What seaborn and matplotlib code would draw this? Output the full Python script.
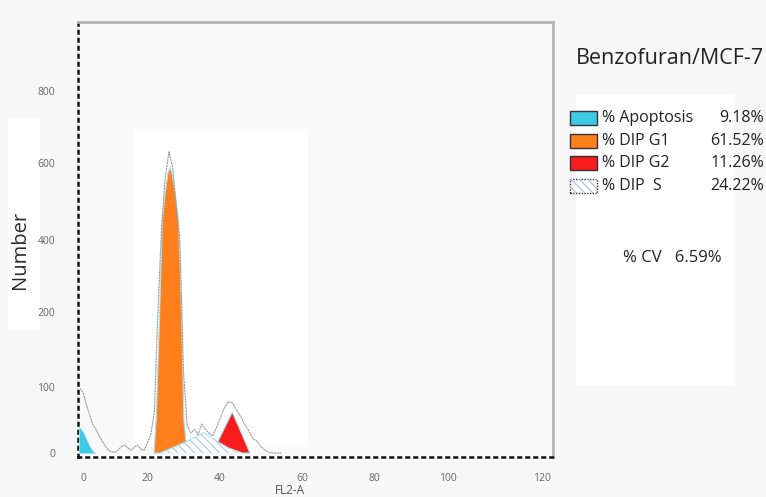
import numpy as np
import matplotlib
matplotlib.use("Agg")
import matplotlib.pyplot as plt
from matplotlib.patches import Rectangle
import seaborn as sns

# ---- DNA content histogram (FL2-A channel vs. event count) ----
CHANNEL = [-1, 0, 1, 2, 3, 4, 5, 6, 7, 8, 9, 10, 11, 12, 13, 14, 15, 16, 17, 18,
           19, 20, 21, 22, 23, 24, 25, 26, 27, 28, 29, 30, 31, 32, 33, 34, 35, 36,
           37, 38, 39, 40, 41, 42, 43, 44, 45, 46, 47, 48, 49, 50, 51, 52, 53, 54, 55]
RAW_COUNTS = [98, 92, 74, 58, 44, 36, 26, 18, 10, 4, 2, 1, 5, 10, 12, 8, 4, 9, 12, 6,
              4, 14, 28, 62, 210, 440, 565, 632, 590, 490, 400, 120, 42, 30, 36, 28, 44, 36,
              30, 26, 38, 52, 68, 78, 76, 66, 56, 44, 34, 22, 18, 10, 4, 1, 0, 0, 0]

# ---- model components fitted to the histogram ----
APO_X = [-1.3, 0, 1, 2, 3, 3.8]
APO_Y = [40, 32, 21, 11, 3, 0]

S_X = [23.5, 30.7, 33.0, 35.5, 37.0, 39.4, 42.0, 45.5]
S_Y = [0, 17, 24, 31, 26, 17, 8, 0]

G1_X = [21.9, 22.5, 23.4, 23.8, 24.2, 25.0, 25.75, 26.3, 26.8, 27.7, 28.6, 29.1, 29.5, 30.1, 30.7]
G1_Y = [0, 50, 189, 322, 452, 525, 575, 590, 575, 525, 452, 322, 189, 50, 17]

G2_X = [39.4, 43.0, 44.9, 47.3]
G2_Y = [17, 62, 35, 0]

LEGEND_LABELS = ["% Apoptosis", "% DIP G1", "% DIP G2", "% DIP  S"]
LEGEND_VALUES = ["9.18%", "61.52%", "11.26%", "24.22%"]
CV_TEXT = "% CV   6.59%"
TITLE = "Benzofuran/MCF-7"

Y_TICKS = [0, 100, 200, 400, 600, 800]
X_TICKS = [0, 20, 40, 60, 80, 100, 120]

C_APO = "#3ec9e4"
C_G1 = "#ff7f1c"
C_G2 = "#f81c1c"
C_EDGE = "#a6e4f0"

sns.set_theme(style="white")
plt.rcParams["font.family"] = ["Open Sans", "DejaVu Sans"]
plt.rcParams["hatch.linewidth"] = 0.7

W, H = 766, 497
fig = plt.figure(figsize=(W / 100, H / 100), dpi=100)
fig.patch.set_facecolor("#f7f7f7")


def fx(px):
    return px / W


def fy(py):
    return 1 - py / H


# light panels behind the axis title and the statistics block
fig.add_artist(Rectangle((fx(8), fy(330)), fx(32), 212 / H, transform=fig.transFigure,
                         facecolor="white", edgecolor="none", zorder=0))
fig.add_artist(Rectangle((fx(576), fy(385)), fx(158), 290 / H, transform=fig.transFigure,
                         facecolor="white", edgecolor="none", zorder=0))

ax = fig.add_axes([fx(78), fy(457), fx(553 - 78), (457 - 22) / H])
ax.set_facecolor("#f9f9f9")

# instrument display scales: piecewise-linear between the labelled ticks
_XK = np.array([-20.0, 0, 20, 40, 60, 80, 100, 120, 140])
_XU = np.array([-64.0, 0, 64, 137, 219, 292, 365, 459, 553])
_YK = np.array([-100.0, 0, 100, 200, 400, 600, 800, 1200])
_YU = np.array([-66.0, 0, 66, 141, 213, 290, 363, 509])


def _piecewise(k, u):
    def fwd(v):
        return np.interp(np.asarray(v, dtype=float), k, u)

    def inv(w):
        return np.interp(np.asarray(w, dtype=float), u, k)

    return fwd, inv


ax.set_xscale("function", functions=_piecewise(_XK, _XU))
ax.set_yscale("function", functions=_piecewise(_YK, _YU))
ax.set_xlim(-1.6, 122.4)
ax.set_ylim(-6, 988)

# white plotting panel behind the peaks
ax.add_patch(Rectangle((0.116, 0.023), 0.368, 0.73, transform=ax.transAxes,
                       facecolor="white", edgecolor="none", zorder=0))

# S phase (hatched)
ax.fill_between(S_X, 0, S_Y, facecolor="white", edgecolor="#a9bfdc",
                hatch="\\\\\\\\", linewidth=0.0, zorder=2)
ax.plot(S_X, S_Y, color=C_EDGE, lw=0.8, zorder=2.5)

S_X_arr = np.array(S_X)
S_Y_arr = np.array(S_Y)

# G1 peak stacked on the S phase
m1 = (S_X_arr >= G1_X[0]) & (S_X_arr <= G1_X[-1])
g1_poly_x = list(G1_X) + list(S_X_arr[m1][::-1])
g1_poly_y = list(G1_Y) + list(S_Y_arr[m1][::-1])
ax.fill(g1_poly_x, g1_poly_y, facecolor=C_G1, edgecolor=C_EDGE, lw=0.8, zorder=3)

# G2 peak stacked on the S phase
m2 = (S_X_arr >= G2_X[0]) & (S_X_arr <= G2_X[-1])
g2_poly_x = list(G2_X) + list(S_X_arr[m2][::-1])
g2_poly_y = list(G2_Y) + list(S_Y_arr[m2][::-1])
ax.fill(g2_poly_x, g2_poly_y, facecolor=C_G2, edgecolor=C_EDGE, lw=0.8, zorder=3)

# apoptotic (sub-G1) fraction
ax.fill_between(APO_X, 0, APO_Y, facecolor=C_APO, edgecolor=C_EDGE, lw=0.6, zorder=3)

# measured histogram outline
sns.lineplot(x=CHANNEL, y=RAW_COUNTS, ax=ax, color="#9a9a9a", lw=0.8,
             linestyle=(0, (2, 0.6)), zorder=4)

ax.set_xticks(X_TICKS)
ax.set_yticks(Y_TICKS)
ax.set_xticklabels([str(t) for t in X_TICKS])
ax.set_yticklabels([str(t) for t in Y_TICKS])
ax.tick_params(axis="both", which="major", labelsize=7.5, labelcolor="#666666",
               colors="black", length=2.5, width=2.4, direction="out")
ax.tick_params(axis="y", pad=14)
ax.tick_params(axis="x", pad=9)
ax.minorticks_off()
ax.set_xlabel("")
ax.set_ylabel("")

for side in ("left", "bottom"):
    ax.spines[side].set_linestyle((0, (1, 2.2)))
    ax.spines[side].set_linewidth(1.8)
    ax.spines[side].set_color("#111111")
for side in ("top", "right"):
    ax.spines[side].set_linewidth(2.0)
    ax.spines[side].set_color("#b4b4b4")

fig.text(fx(20), fy(250), "Number", rotation=90, ha="center", va="center",
         fontsize=14.5, color="#2a2a2a")
fig.text(fx(290), 0.0, "FL2-A", ha="center", va="bottom", fontsize=8.5, color="#555555")

# statistics panel
fig.text(fx(670), fy(58), TITLE, ha="center", va="center", fontsize=15.5, color="#222222")

row_y = [118, 141, 163, 186]
face = [C_APO, C_G1, C_G2, "white"]
for i, (lab, val) in enumerate(zip(LEGEND_LABELS, LEGEND_VALUES)):
    y = row_y[i]
    rect = Rectangle((fx(570), fy(y + 7)), fx(27), 14 / H, transform=fig.transFigure,
                     facecolor=face[i], edgecolor="#333333", lw=1.0, zorder=2)
    fig.add_artist(rect)
    if i == 3:
        fig.add_artist(Rectangle((fx(570), fy(y + 7)), fx(27), 14 / H,
                                 transform=fig.transFigure, facecolor="none",
                                 edgecolor="#9fb6d6", hatch="\\\\\\\\", lw=0, zorder=2))
        rect.set_linestyle((0, (1, 1)))
    fig.text(fx(602), fy(y), lab, ha="left", va="center", fontsize=11.5, color="#222222")
    fig.text(fx(764), fy(y), val, ha="right", va="center", fontsize=11.5, color="#222222")

fig.text(fx(672), fy(258), CV_TEXT, ha="center", va="center", fontsize=12, color="#222222")

fig.savefig("out.png", dpi=100, facecolor=fig.get_facecolor())
